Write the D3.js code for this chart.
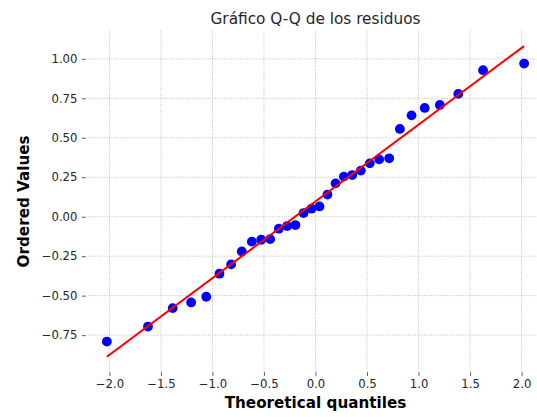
<!DOCTYPE html>
<html>
<head>
<meta charset="utf-8">
<script src="https://cdn.jsdelivr.net/npm/d3@7"></script>
<style>
  html, body { margin: 0; padding: 0; background: #ffffff; }
  svg { display: block; }
  text { font-family: "DejaVu Sans", sans-serif; }
</style>
</head>
<body>
<div id="chart"></div>
<script>
// Theoretical normal quantiles (x) and sorted residuals (y)
const theoreticalQuantiles = [
  -2.025, -1.626, -1.386, -1.207, -1.060, -0.932, -0.819, -0.715,
  -0.618, -0.527, -0.440, -0.356, -0.275, -0.195, -0.116, -0.039,
   0.039,  0.116,  0.195,  0.275,  0.356,  0.440,  0.527,  0.618,
   0.715,  0.819,  0.932,  1.060,  1.207,  1.386,  1.626,  2.025
];
const orderedValues = [
  -0.791, -0.696, -0.579, -0.543, -0.507, -0.361, -0.302, -0.220,
  -0.158, -0.146, -0.142, -0.076, -0.059, -0.053,  0.023,  0.051,
   0.065,  0.140,  0.211,  0.254,  0.264,  0.292,  0.338,  0.363,
   0.370,  0.556,  0.642,  0.689,  0.708,  0.778,  0.928,  0.970
];
// Reference line fitted to the points
const fitSlope = 0.486;
const fitIntercept = 0.097;

const xTicks = [-2.0, -1.5, -1.0, -0.5, 0.0, 0.5, 1.0, 1.5, 2.0];
const yTicks = [-0.75, -0.50, -0.25, 0.00, 0.25, 0.50, 0.75, 1.00];

const titleText = "Gráfico Q-Q de los residuos";
const xLabelText = "Theoretical quantiles";
const yLabelText = "Ordered Values";

const W = 537, H = 417;
const plot = { left: 86, right: 545, top: 30.5, bottom: 372.3 };

const svg = d3.select("#chart").append("svg")
  .attr("width", W).attr("height", H)
  .style("overflow", "hidden");

// Axis limits padded by 5% of the data span on each side
const xMin = d3.min(theoreticalQuantiles), xMax = d3.max(theoreticalQuantiles);
const xPad = (xMax - xMin) * 0.05;
const lineY = [fitIntercept + fitSlope * xMin, fitIntercept + fitSlope * xMax];
const yMin = Math.min(d3.min(orderedValues), ...lineY);
const yMax = Math.max(d3.max(orderedValues), ...lineY);
const yPad = (yMax - yMin) * 0.05;

const x = d3.scaleLinear().domain([xMin - xPad, xMax + xPad]).range([plot.left, plot.right]);
const y = d3.scaleLinear().domain([yMin - yPad, yMax + yPad]).range([plot.bottom, plot.top]);

// Grid
const grid = svg.append("g")
  .attr("stroke", "#b4b4b4").attr("stroke-width", 0.8)
  .attr("stroke-dasharray", "1,1.3");
grid.selectAll("line.v").data(xTicks).join("line").attr("class", "v")
  .attr("x1", d => x(d)).attr("x2", d => x(d))
  .attr("y1", plot.top).attr("y2", plot.bottom);
grid.selectAll("line.h").data(yTicks).join("line").attr("class", "h")
  .attr("x1", plot.left).attr("x2", plot.right)
  .attr("y1", d => y(d)).attr("y2", d => y(d));

const fmtX = d => d3.format(".1f")(d).replace("-", "\u2212");
const fmtY = d => d3.format(".2f")(d).replace("-", "\u2212");

// Bottom axis
const xAxis = svg.append("g")
  .attr("transform", `translate(0,${plot.bottom})`)
  .call(d3.axisBottom(x).tickValues(xTicks).tickFormat(fmtX).tickSize(3.5).tickPadding(3.5));
xAxis.select(".domain").remove();
xAxis.selectAll(".tick line").attr("stroke", "#444").attr("stroke-width", 0.9);
xAxis.selectAll(".tick text").attr("fill", "#262626")
  .style("font-size", "11.7px").style("font-family", "DejaVu Sans, sans-serif");

// Left axis
const yAxis = svg.append("g")
  .attr("transform", `translate(${plot.left - 0.5},0)`)
  .call(d3.axisLeft(y).tickValues(yTicks).tickFormat(fmtY).tickSize(3.5).tickPadding(4.5));
yAxis.select(".domain").remove();
yAxis.selectAll(".tick line").attr("stroke", "#444").attr("stroke-width", 0.9);
yAxis.selectAll(".tick text").attr("fill", "#262626")
  .style("font-size", "11.7px").style("font-family", "DejaVu Sans, sans-serif");

// Sample points
svg.append("g").selectAll("circle")
  .data(theoreticalQuantiles.map((q, i) => [q, orderedValues[i]]))
  .join("circle")
  .attr("cx", d => x(d[0])).attr("cy", d => y(d[1]))
  .attr("r", 4.9).attr("fill", "#0000ff");

// Fitted reference line
const lineData = [xMin, xMax].map(q => [q, fitIntercept + fitSlope * q]);
svg.append("path")
  .datum(lineData)
  .attr("d", d3.line().x(d => x(d[0])).y(d => y(d[1])))
  .attr("fill", "none").attr("stroke", "#ff0000").attr("stroke-width", 2.1);

// Title and axis labels
const cx = (plot.left + plot.right) / 2;
svg.append("text").attr("x", cx).attr("y", 24)
  .attr("text-anchor", "middle").attr("fill", "#262626")
  .style("font-size", "15.3px").text(titleText);

svg.append("text").attr("x", cx).attr("y", 407.5)
  .attr("text-anchor", "middle").attr("fill", "#000")
  .style("font-size", "15.2px").style("font-weight", "bold").text(xLabelText);

const cy = (plot.top + plot.bottom) / 2;
svg.append("text")
  .attr("transform", `translate(28.5,${cy}) rotate(-90)`)
  .attr("text-anchor", "middle").attr("fill", "#000")
  .style("font-size", "15.2px").style("font-weight", "bold").text(yLabelText);
</script>
</body>
</html>
